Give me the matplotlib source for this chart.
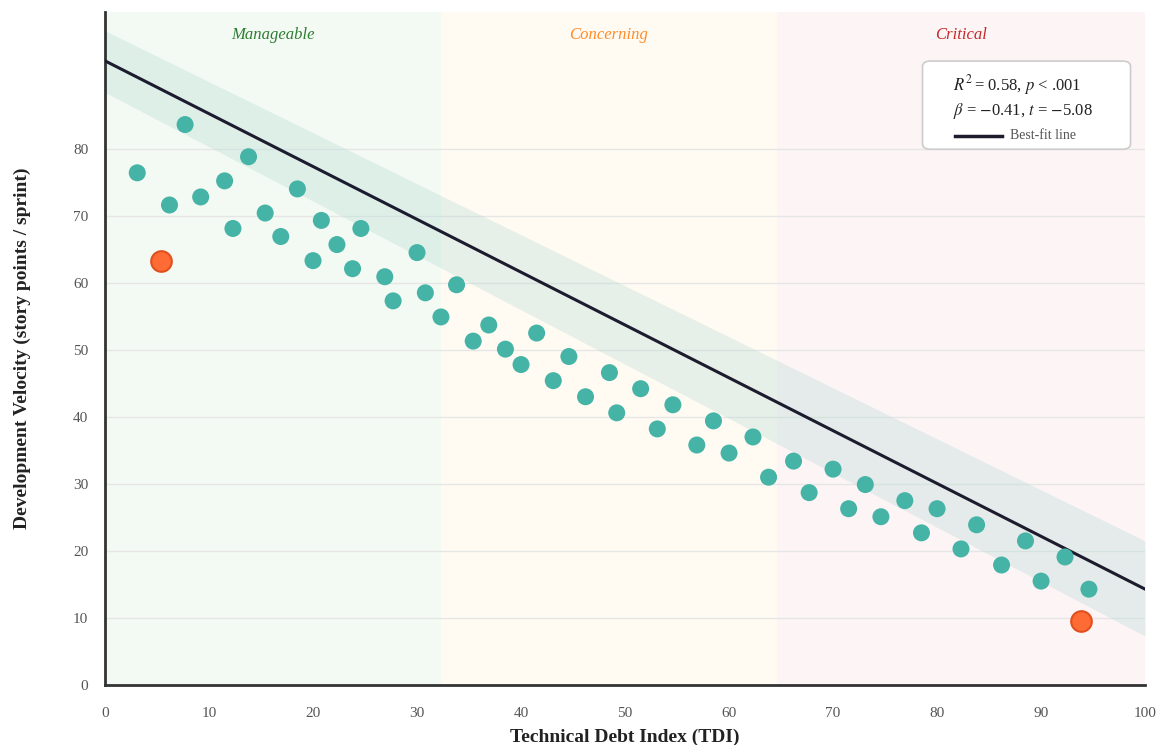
import numpy as np
import matplotlib
matplotlib.use("Agg")
import matplotlib.pyplot as plt
from matplotlib.patches import FancyBboxPatch

plt.rcParams['font.family'] = ['Liberation Serif', 'DejaVu Serif']
plt.rcParams['mathtext.fontset'] = 'stix'

# data
tdi = [3.1, 6.2, 7.7, 9.2, 11.5, 12.3, 13.8, 15.4, 16.9, 18.5, 20.0, 20.8, 22.3, 23.8,
       24.6, 26.9, 27.7, 30.0, 30.8, 32.3, 33.8, 35.4, 36.9, 38.5, 40.0, 41.5, 43.1,
       44.6, 46.2, 48.5, 49.2, 51.5, 53.1, 54.6, 56.9, 58.5, 60.0, 62.3, 63.8, 66.2,
       67.7, 70.0, 71.5, 73.1, 74.6, 76.9, 78.5, 80.0, 82.3, 83.8, 86.2, 88.5, 90.0,
       92.3, 94.6]
velocity = [76.4, 71.6, 83.6, 72.8, 75.2, 68.1, 78.8, 70.4, 66.9, 74.0, 63.3, 69.3,
            65.7, 62.1, 68.1, 60.9, 57.3, 64.5, 58.5, 54.9, 59.7, 51.3, 53.7, 50.1,
            47.8, 52.5, 45.4, 49.0, 43.0, 46.6, 40.6, 44.2, 38.2, 41.8, 35.8, 39.4,
            34.6, 37.0, 31.0, 33.4, 28.7, 32.2, 26.3, 29.9, 25.1, 27.5, 22.7, 26.3,
            20.3, 23.9, 17.9, 21.5, 15.5, 19.1, 14.3]
outlier_tdi = [5.4, 93.8]
outlier_vel = [63.3, 9.6]

fit_x = [0, 100]
fit_y = [93.1, 14.3]
band_lo = [88.4, 7.3]
band_hi = [97.6, 21.5]

zone_edges = [0, 32.3, 64.6, 100]
zone_names = ['Manageable', 'Concerning', 'Critical']
zone_bg = ['#f3f9f3', '#fffbf3', '#fdf4f5']
zone_fg = ['#2e7d32', '#ff8c2a', '#c62828']

fig = plt.figure(figsize=(11.59, 7.45), dpi=100)
ax = fig.add_axes([0.0906, 0.0805, 0.8974, 0.9035])

for i, name in enumerate(zone_names):
    ax.axvspan(zone_edges[i], zone_edges[i + 1], color=zone_bg[i], zorder=0, lw=0)
    ax.text((zone_edges[i] + zone_edges[i + 1]) / 2, 97.0, name, ha='center', va='center',
            style='italic', fontsize=12, color=zone_fg[i])

ax.fill_between(fit_x, band_lo, band_hi, color='#b9ddd6', alpha=0.35, lw=0, zorder=1)
ax.plot(fit_x, fit_y, color='#1c1c2e', lw=2.2, zorder=3)

ax.scatter(tdi, velocity, s=150, color='#45b3a5', edgecolors='none', zorder=4)
ax.scatter(outlier_tdi, outlier_vel, s=220, color='#ff6b35', edgecolors='#e0501f',
           linewidths=1.5, zorder=5)

ax.set_xlim(0, 100)
ax.set_ylim(0, 100.4)
ax.set_xticks(range(0, 101, 10))
ax.set_yticks(range(0, 81, 10))
ax.grid(axis='y', color='#e6e6e6', lw=1, zorder=0.5)
ax.set_axisbelow(True)
ax.tick_params(length=0, labelsize=11, labelcolor='#555555')
ax.tick_params(axis='x', pad=16)
ax.tick_params(axis='y', pad=12)
for side in ['top', 'right']:
    ax.spines[side].set_visible(False)
for side in ['left', 'bottom']:
    ax.spines[side].set_color('#333333')
    ax.spines[side].set_linewidth(2)

ax.set_xlabel('Technical Debt Index (TDI)', fontsize=14, fontweight='bold', color='#222222', labelpad=6)
ax.set_ylabel('Development Velocity (story points / sprint)', fontsize=14, fontweight='bold',
              color='#222222', labelpad=30)

# stats box
box = FancyBboxPatch((0.786, 0.796), 0.2, 0.131, boxstyle='round,pad=0,rounding_size=0.008',
                     transform=ax.transAxes, facecolor='white', edgecolor='#cccccc', lw=1.2, zorder=6)
ax.add_patch(box)
ax.text(0.815, 0.892, r'$R^2\!$ = 0.58, $p$ < .001', transform=ax.transAxes, fontsize=12,
        va='center', color='#222222', zorder=7)
ax.text(0.815, 0.853, r'$\beta$ = $-$0.41, $t$ = $-$5.08', transform=ax.transAxes, fontsize=12,
        va='center', color='#222222', zorder=7)
ax.plot([0.817, 0.862], [0.816, 0.816], transform=ax.transAxes, color='#1c1c2e', lw=2.5, zorder=7)
ax.text(0.870, 0.816, 'Best-fit line', transform=ax.transAxes, fontsize=10, va='center',
        color='#555555', zorder=7)

fig.savefig('out.png', dpi=100)
